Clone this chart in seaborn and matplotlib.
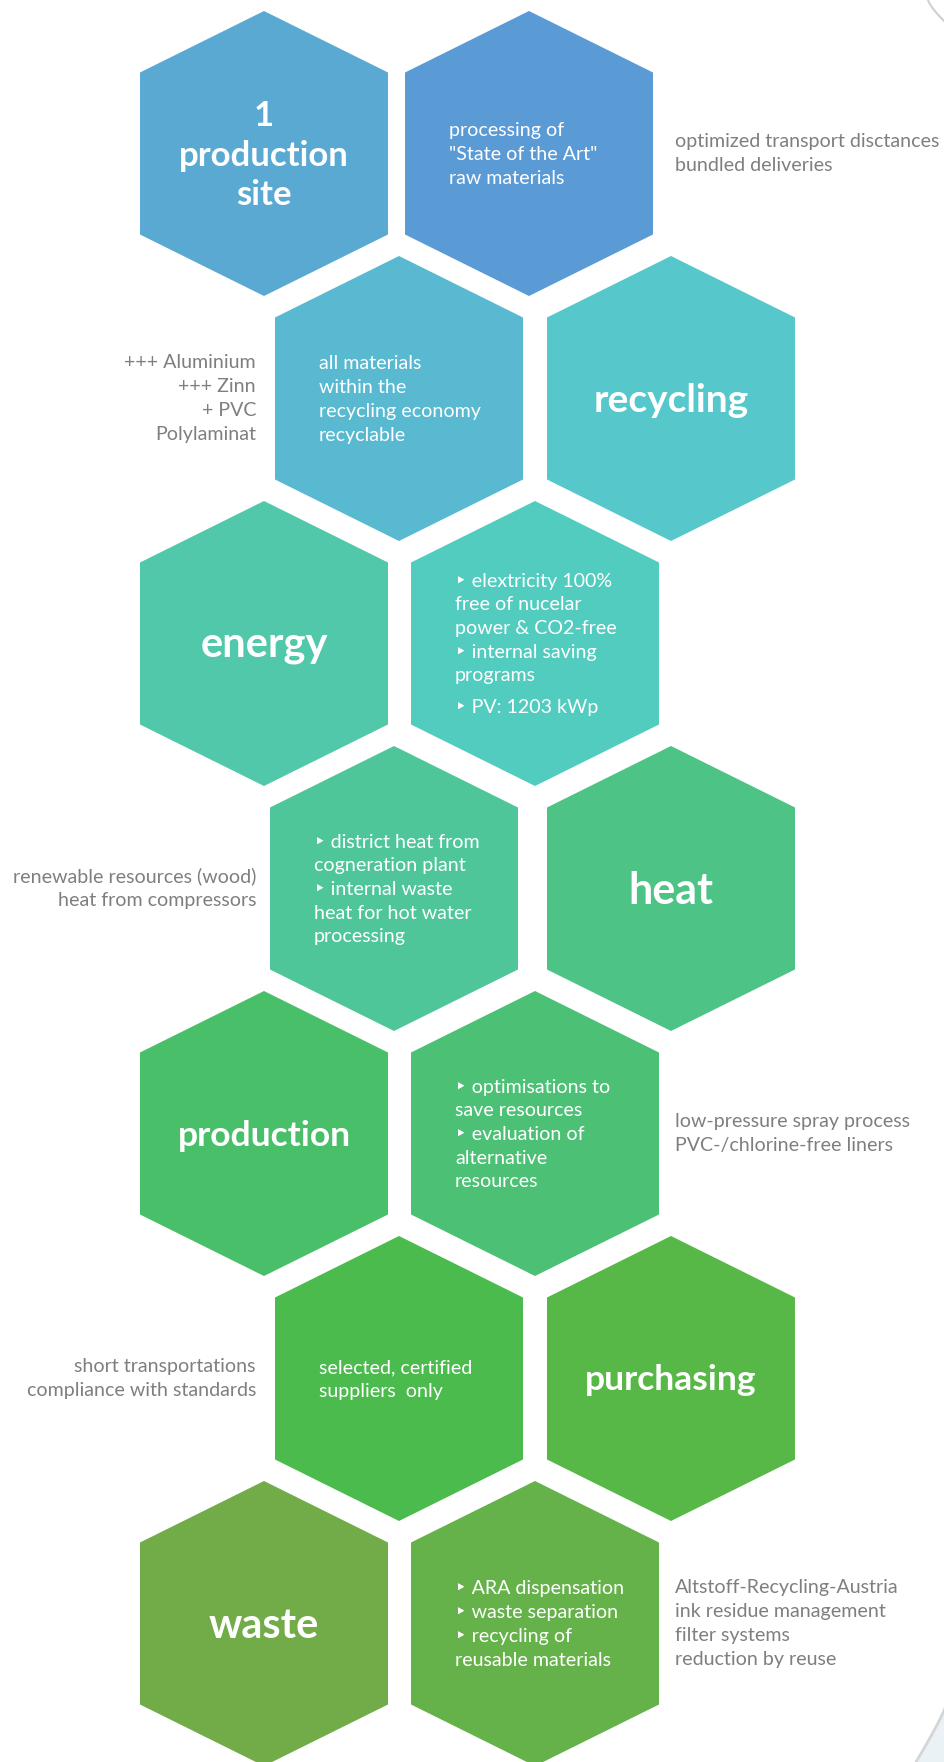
import matplotlib.pyplot as plt
import numpy as np
import seaborn as sns

# hexagon contents, row by row (left hex, right hex)
hex_titles = ["1\nproduction\nsite", "", "", "recycling", "energy", "", "", "heat",
              "production", "", "", "purchasing", "waste", ""]
title_sizes = [25, 0, 0, 28, 30, 0, 0, 31, 25.5, 0, 0, 25.5, 30, 0]
hex_texts = [
    [],
    ["processing of", "\"State of the Art\"", "raw materials"],
    ["all materials", "within the", "recycling economy", "recyclable"],
    [],
    [],
    ["‣ elextricity 100%", "free of nucelar", "power & CO2-free", "‣ internal saving",
     "programs", "", "‣ PV: 1203 kWp"],
    ["‣ district heat from", "cogneration plant", "‣ internal waste",
     "heat for hot water", "processing"],
    [],
    [],
    ["‣ optimisations to", "save resources", "‣ evaluation of", "alternative", "resources"],
    ["selected, certified", "suppliers  only"],
    [],
    [],
    ["‣ ARA dispensation", "‣ waste separation", "‣ recycling of", "reusable materials"],
]
hex_colors = ["#5AA9D2", "#5B9BD5", "#58B9D1", "#56C8CC", "#51C8A9", "#53CCC0", "#4FC69A",
              "#4DC386", "#4ABF6A", "#4CC175", "#4BBB4E", "#58B847", "#71AC48", "#66B24A"]

# grey side notes
note_rows = [0, 1, 3, 4, 5, 6]
note_sides = ["right", "left", "left", "right", "left", "right"]
notes = [
    ["optimized transport disctances", "bundled deliveries"],
    ["+++ Aluminium", "+++ Zinn", "+ PVC", "Polylaminat"],
    ["renewable resources (wood)", "heat from compressors"],
    ["low-pressure spray process", "PVC-/chlorine-free liners"],
    ["short transportations", "compliance with standards"],
    ["Altstoff-Recycling-Austria", "ink residue management", "filter systems", "reduction by reuse"],
]

# layout (pixels)
W, H = 945, 1762
HW, HH, SH = 124, 285, 61.5   # half width, height, shoulder
ROW0, ROWSTEP = 11, 245
row_cx = [(264, 529), (399, 671), (264, 535), (394, 671), (264, 535), (399, 671), (264, 535)]
LINE = 23.7
BODY = 14.1
GREY = "#7F7F7F"

sns.set_theme(style="white")
plt.rcParams["font.family"] = ["Lato", "DejaVu Sans"]

fig = plt.figure(figsize=(W / 100, H / 100), dpi=100)
ax = fig.add_axes([0, 0, 1, 1])
ax.set_xlim(0, W)
ax.set_ylim(H, 0)
ax.axis("off")


def hexagon(cx, top):
    xs = [cx, cx + HW, cx + HW, cx, cx - HW, cx - HW]
    ys = [top, top + SH, top + HH - SH, top + HH, top + HH - SH, top + SH]
    return xs, ys


def line_positions(lines, cy):
    offs, y = [], 0.0
    for ln in lines:
        if ln == "":
            y += 8.5
            offs.append(None)
            continue
        offs.append(y)
        y += LINE
    span = max(o for o in offs if o is not None)
    return [None if o is None else cy - span / 2 + o for o in offs]


for i, color in enumerate(hex_colors):
    r, c = divmod(i, 2)
    cx = row_cx[r][c]
    top = ROW0 + r * ROWSTEP
    cy = top + HH / 2
    xs, ys = hexagon(cx, top)
    ax.fill(xs, ys, color=color, lw=0, zorder=1)

    title = hex_titles[i]
    if title:
        ax.text(cx, cy + 2, title, ha="center", va="center", color="white",
                fontsize=title_sizes[i], fontweight="bold", linespacing=1.3, zorder=3)

    lines = hex_texts[i]
    if lines:
        for ln, y in zip(lines, line_positions(lines, cy + 1)):
            if y is None:
                continue
            ax.text(cx - 80, y, ln, ha="left", va="center", color="white",
                    fontsize=BODY, zorder=3)

for r, side, lines in zip(note_rows, note_sides, notes):
    cy = ROW0 + r * ROWSTEP + HH / 2
    if side == "right":
        x, ha = 675, "left"
    else:
        x, ha = 256, "right"
    for ln, y in zip(lines, line_positions(lines, cy)):
        ax.text(x, y, ln, ha=ha, va="center", color=GREY, fontsize=BODY, zorder=3)

# faint page decorations at the right edge
t = np.linspace(0, 1, 30)
ax.plot(928 + 17 * t ** 1.3, 22 * t, color="#D0D0D0", lw=1.5, zorder=0)
bx = 945 - 29 * t
by = 1708 + 54 * t ** 0.9
ax.fill(np.r_[bx, 945], np.r_[by, 1762], color="#EAF2F6", lw=0, zorder=0)
ax.plot(bx, by, color="#D5D5D5", lw=2, zorder=0)

fig.savefig("out.png", dpi=100, facecolor="white")
